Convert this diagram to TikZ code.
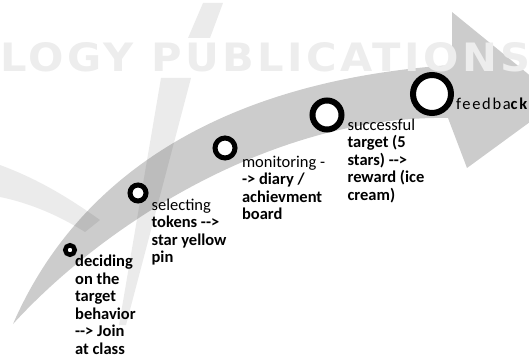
\documentclass[tikz,border=0pt]{standalone}
\usepackage{fontspec}
\usepackage{graphicx}
\setmainfont{Carlito}[Ligatures=TeXOff]
\newfontfamily\markfont{DejaVu Sans}[LetterSpace=8]
\tikzset{
  stage/.style={circle, draw=black, fill=white, inner sep=0pt},
  steptext/.style={anchor=north west, inner sep=0pt, align=left,
    font=\fontsize{16.5}{17.5}\selectfont\bfseries},
  shade/.style={fill=black, fill opacity=0.08}
}
\begin{document}
\begin{tikzpicture}[x=1pt,y=-1pt]
  \useasboundingbox (0,0) rectangle (529,355);
  \clip (0,0) rectangle (529,355);
  % curved arrow
  \fill[gray!40] (13,324) .. controls (80,170) and (230,80) .. (452,65)
    -- (452,12) -- (560,100) -- (467,168) -- (448,118)
    .. controls (280,115) and (110,218) .. (13,324) -- cycle;
  % watermark
  \fill[shade] (203,3) -- (223,3) -- (210,38) -- (188,38) -- cycle;
  \fill[shade] (161,78) -- (191,78) -- (126,325) -- (119,325) -- cycle;
  \fill[shade] (0,165) .. controls (35,178) and (65,195) .. (100,220)
    -- (85,232) .. controls (55,213) and (25,202) .. (0,197) -- cycle;
  \node[anchor=base west, inner sep=0pt, text=black!7] (wmtext) at (0,72)
    {\resizebox{530pt}{29pt}{\markfont\bfseries LOGY PUBLICATIONS}};
  % stages
  \foreach \name/\x/\y/\r/\w in {decide/70/250/4.75/4.5, select/138/193/8/5,
      monitor/225/148/10/5, success/327/115/14.5/6, feedback/432/94/19/6}
    \node[stage, minimum size=\r*2pt, line width=\w pt] (\name) at (\x,\y) {};
  \node[steptext] (decidetext) at (decide.south east)
    {deciding\\ on the\\ target\\ behavior\\ --> Join\\ at class};
  \node[steptext] (selecttext) at ([shift={(6,-2)}]select.south east)
    {{\mdseries selecting}\\ tokens -->\\ star yellow\\ pin};
  \node[steptext] (monitortext) at ([shift={(8,-1)}]monitor.south east)
    {{\mdseries monitoring -}\\ -> diary /\\ achievment\\ board};
  \node[steptext] (successtext) at ([shift={(8,-9)}]success.south east)
    {{\mdseries successful}\\ target (5\\ stars) -->\\ reward (ice\\ cream)};
  \node[steptext] (feedbacktext) at ([shift={(2,4)}]feedback.east)
    {\addfontfeature{LetterSpace=10}{\mdseries feedba}ck};
\end{tikzpicture}
\end{document}
